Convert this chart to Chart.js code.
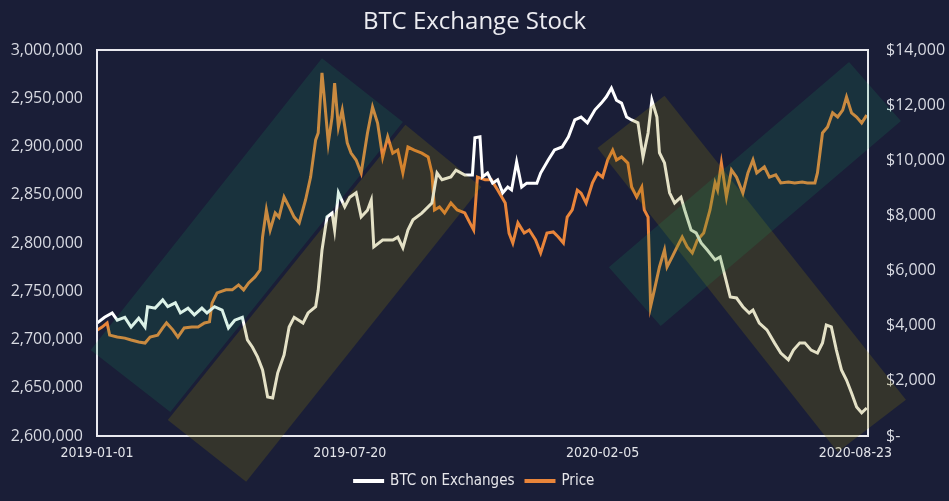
<!DOCTYPE html>
<html>
<head>
<meta charset="utf-8">
<script src="https://cdn.jsdelivr.net/npm/chart.js@4.4.0/dist/chart.umd.min.js"></script>
<style>
  html, body { margin: 0; padding: 0; background: #1a1e37; }
  #wrap { width: 949px; height: 501px; position: relative; }
</style>
</head>
<body>
<div id="wrap"><canvas id="chart"></canvas></div>
<script>
// day offset from 2019-01-01, BTC held on exchanges
const btcSeries = [
  [0,2717000],[6,2723000],[12,2727500],[16,2720000],[22,2723000],[27,2713000],[33,2722000],[38,2713000],
  [40,2734000],[46,2732500],[52,2741000],[56,2734000],[62,2738000],[66,2727500],[72,2732500],[77,2725500],
  [83,2732500],[87,2727500],[93,2734000],[99,2730500],[104,2712000],[109,2720000],[115,2723000],[119,2699500],
  [123,2692000],[127,2682000],[131,2668500],[135,2640500],[139,2639500],[143,2665500],[148,2684000],[152,2713000],
  [156,2723000],[163,2717000],[167,2727500],[173,2734000],[175,2751000],[178,2792500],[182,2827000],[186,2831000],
  [188,2813500],[191,2852000],[196,2837500],[200,2847500],[205,2852000],[209,2827000],[214,2834000],[217,2844500],
  [219,2796000],[226,2803000],[234,2803000],[238,2806000],[242,2795000],[246,2813500],[250,2824000],[257,2831000],
  [265,2841500],[269,2872500],[273,2865500],[280,2868500],[284,2875500],[291,2870500],[297,2870500],[299,2909000],
  [303,2910000],[305,2868500],[309,2872500],[313,2862000],[317,2865500],[321,2852000],[325,2858000],[328,2855000],
  [332,2884000],[336,2858000],[340,2862000],[348,2862000],[351,2872500],[357,2886000],[362,2896500],[368,2899500],
  [373,2910000],[378,2927500],[383,2930500],[388,2924500],[394,2938000],[399,2945000],[403,2951500],[407,2960500],
  [411,2948000],[415,2945000],[419,2930500],[423,2927500],[428,2924500],[432,2889000],[436,2914000],[439,2948000],
  [443,2930500],[445,2893500],[449,2883000],[453,2852000],[457,2841500],[462,2847500],[465,2834000],[470,2813500],
  [474,2810500],[478,2800000],[483,2792500],[489,2782500],[493,2785500],[497,2765000],[501,2744000],[506,2743000],
  [511,2734000],[516,2727500],[519,2730500],[524,2717000],[530,2710000],[536,2696500],[541,2686000],[547,2679000],
  [551,2689000],[556,2696500],[560,2696500],[565,2689000],[570,2686000],[574,2696500],[577,2715000],[581,2713000],
  [585,2689000],[589,2668500],[593,2658000],[597,2644500],[601,2630000],[605,2624000],[609,2629000]
];

// day offset, BTC price in USD
const priceSeries = [
  [0,3840],[4,3950],[8,4100],[10,3660],[16,3590],[22,3550],[27,3480],[33,3410],[38,3370],[42,3590],[48,3660],
  [52,3920],[55,4100],[60,3850],[64,3590],[69,3920],[75,3950],[80,3950],[85,4100],[89,4140],[91,4820],[95,5190],
  [102,5300],[107,5300],[112,5480],[116,5300],[120,5550],[125,5770],[129,6020],[131,7220],[134,8200],[137,7470],
  [141,8090],[144,7940],[148,8670],[152,8310],[156,7940],[160,7730],[165,8560],[169,9390],[173,10740],[175,10990],
  [178,13170],[180,12190],[183,10630],[186,11570],[188,12800],[191,11210],[194,11820],[198,10630],[201,10260],
  [205,10010],[209,9540],[214,10990],[218,11930],[222,11350],[226,10120],[230,10850],[234,10260],[238,10370],
  [242,9540],[246,10480],[251,10370],[257,10260],[262,10120],[265,9540],[267,8200],[271,8310],[275,8090],[280,8450],
  [285,8200],[291,8090],[295,7730],[298,7470],[301,9390],[307,9290],[312,9290],[317,8920],[323,8450],[326,7360],
  [329,7000],[333,7730],[338,7360],[342,7470],[347,7110],[351,6640],[356,7360],[361,7400],[365,7220],[369,7000],
  [372,7940],[376,8200],[380,8920],[383,8810],[387,8450],[392,9180],[396,9540],[400,9390],[404,10010],[408,10370],
  [411,10010],[415,10120],[420,9900],[423,9030],[427,8670],[431,9030],[433,8200],[436,7940],[438,4700],[441,5300],
  [445,6130],[449,6750],[451,6130],[455,6490],[459,6860],[463,7220],[467,6860],[471,6640],[475,7110],[480,7360],
  [485,8200],[489,9180],[491,8920],[494,9900],[498,8670],[502,9650],[506,9390],[511,8810],[515,9540],[519,10010],
  [522,9540],[528,9760],[532,9390],[537,9470],[541,9180],[547,9210],[552,9180],[558,9210],[562,9180],[568,9180],
  [570,9540],[574,10990],[578,11210],[582,11720],[586,11570],[590,11820],[593,12300],[597,11720],[601,11570],
  [605,11350],[609,11640]
];

// x axis range and labelled days
const dayRange = [0, 610];
const tickDays = [0, 200, 400, 600];

// trend channels, corners as [day, BTC-axis value]
const tealBands = [
  [[-5,2689000],[178,2991500],[242,2925500],[58,2625000]],
  [[405,2775000],[595,2987500],[636,2926500],[446,2714000]]
];
const oliveBands = [
  [[56,2616500],[244,2922500],[304,2858000],[118,2552500]],
  [[396,2898500],[449,2952500],[640,2637500],[586,2583500]]
];

const startDay = Date.UTC(2019, 0, 1);
const dayLabel = (d) => new Date(startDay + d * 86400000).toISOString().slice(0, 10);

const narrow = "'Liberation Sans Narrow', 'DejaVu Sans Condensed', sans-serif";
Chart.defaults.font.family = "'Open Sans', sans-serif";

const bgPlugin = {
  id: "bg",
  beforeDraw: (chart) => {
    const ctx = chart.ctx;
    ctx.save();
    ctx.fillStyle = "#1a1e37";
    ctx.fillRect(0, 0, chart.width, chart.height);
    ctx.restore();
  },
};

const channelPlugin = {
  id: "channels",
  afterDatasetsDraw: (chart) => {
    const ctx = chart.ctx;
    const xs = chart.scales.x;
    const ys = chart.scales.y;
    const area = chart.chartArea;
    // plot frame
    ctx.save();
    ctx.strokeStyle = "#e9e9ef";
    ctx.lineWidth = 2;
    ctx.strokeRect(area.left, area.top, area.right - area.left, area.bottom - area.top);
    const fill = (bands, color) => {
      bands.forEach((b) => {
        ctx.beginPath();
        b.forEach((p, i) => {
          const px = xs.getPixelForValue(p[0]);
          const py = ys.getPixelForValue(p[1]);
          if (i === 0) ctx.moveTo(px, py);
          else ctx.lineTo(px, py);
        });
        ctx.closePath();
        ctx.fillStyle = color;
        ctx.fill();
      });
    };
    fill(oliveBands, "rgba(140, 125, 10, 0.23)");
    fill(tealBands, "rgba(19, 171, 103, 0.15)");
    ctx.restore();
  },
};

new Chart(document.getElementById("chart"), {
  type: "line",
  data: {
    datasets: [
      {
        label: "BTC on Exchanges",
        data: btcSeries.map((p) => ({ x: p[0], y: p[1] })),
        yAxisID: "y",
        borderColor: "#ffffff",
        backgroundColor: "#ffffff",
        borderWidth: 3,
        pointRadius: 0,
        tension: 0,
      },
      {
        label: "Price",
        data: priceSeries.map((p) => ({ x: p[0], y: p[1] })),
        yAxisID: "y1",
        borderColor: "#e9853a",
        backgroundColor: "#e9853a",
        borderWidth: 3,
        pointRadius: 0,
        tension: 0,
      },
    ],
  },
  options: {
    responsive: true,
    maintainAspectRatio: false,
    animation: false,
    layout: { padding: { left: 0, right: 0, top: 0, bottom: 2.5 } },
    scales: {
      x: {
        type: "linear",
        min: dayRange[0],
        max: dayRange[1],
        grid: { display: false, drawTicks: false },
        border: { display: false },
        afterFit: (s) => { s.height = 26; },
        afterBuildTicks: (s) => { s.ticks = tickDays.map((d) => ({ value: d })); },
        ticks: {
          padding: 9,
          color: "#e4e5ea",
          font: { family: narrow, size: 14 },
          maxRotation: 0,
          autoSkip: false,
          callback: (v) => dayLabel(v),
        },
      },
      y: {
        position: "left",
        min: 2600000,
        max: 3000000,
        grid: { display: false, drawTicks: false },
        border: { display: false },
        afterFit: (s) => { s.width = 97; },
        ticks: {
          stepSize: 50000,
          padding: 14,
          color: "#d8dae2",
          font: { size: 16 },
          callback: (v) => v.toLocaleString("en-US"),
        },
      },
      y1: {
        position: "right",
        min: 0,
        max: 14000,
        grid: { display: false, drawTicks: false },
        border: { display: false },
        afterFit: (s) => { s.width = 81; },
        ticks: {
          stepSize: 2000,
          padding: 18,
          color: "#d8dae2",
          font: { size: 16 },
          callback: (v) => (v === 0 ? "$-" : "$" + v.toLocaleString("en-US")),
        },
      },
    },
    plugins: {
      title: {
        display: true,
        text: "BTC Exchange Stock",
        color: "#ececf1",
        font: { size: 24, weight: "normal" },
        padding: { top: 8, bottom: 13.2 },
      },
      legend: {
        position: "bottom",
        labels: {
          color: "#e6e6ea",
          boxWidth: 28,
          boxHeight: 1,
          padding: 11.5,
          font: { family: narrow, size: 15 },
        },
      },
      tooltip: { enabled: false },
    },
  },
  plugins: [bgPlugin, channelPlugin],
});
</script>
</body>
</html>
